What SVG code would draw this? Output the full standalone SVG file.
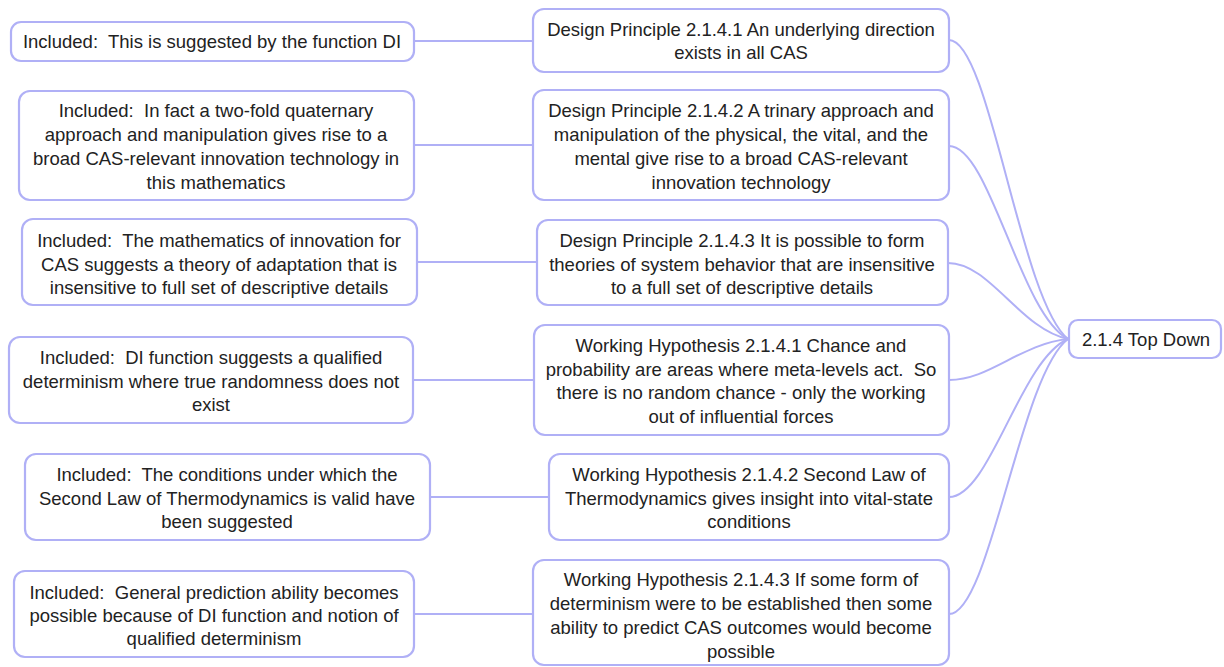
<svg xmlns="http://www.w3.org/2000/svg" width="1224" height="667" viewBox="0 0 1224 667">
<style>
.box{fill:#fff;stroke:#b0b0f6;stroke-width:2.2}
.c{fill:none;stroke:#b0b0f6;stroke-width:2}
text{font-family:"Liberation Sans",Arial,sans-serif;font-size:18.5px;fill:#222;text-anchor:middle;dominant-baseline:central;white-space:pre}
</style>
<rect width="1224" height="667" fill="#fff"/>
<g id="connectors">
<path class="c" d="M414 41H533"/>
<path class="c" d="M414 145H533"/>
<path class="c" d="M417 262H537"/>
<path class="c" d="M413 380H534"/>
<path class="c" d="M430 497H549"/>
<path class="c" d="M414 614H533"/>
<path class="c" d="M949 40C990 40 1020 300 1068 339"/>
<path class="c" d="M949 146C990 146 1020 314 1068 339"/>
<path class="c" d="M948 263C990 263 1020 329 1068 339"/>
<path class="c" d="M949 380C990 380 1020 344 1068 339"/>
<path class="c" d="M949 497C990 497 1020 360 1068 339"/>
<path class="c" d="M949 614C990 614 1020 375 1068 339"/>
</g>
<g id="root"><rect class="box" x="1069" y="320" width="152" height="38" rx="9"/><text x="1146" y="339">2.1.4 Top Down</text></g>
<g id="m1"><rect class="box" x="533" y="9" width="416" height="63" rx="11"/><text x="741" y="29">Design Principle 2.1.4.1 An underlying direction</text><text x="741" y="52">exists in all CAS</text></g>
<g id="m2"><rect class="box" x="533" y="90" width="416" height="110" rx="11"/><text x="741" y="110">Design Principle 2.1.4.2 A trinary approach and</text><text x="741" y="134">manipulation of the physical, the vital, and the</text><text x="741" y="158">mental give rise to a broad CAS-relevant</text><text x="741" y="182">innovation technology</text></g>
<g id="m3"><rect class="box" x="537" y="220" width="411" height="85" rx="11"/><text x="742" y="240">Design Principle 2.1.4.3 It is possible to form</text><text x="742" y="264">theories of system behavior that are insensitive</text><text x="742" y="287">to a full set of descriptive details</text></g>
<g id="m4"><rect class="box" x="534" y="325" width="415" height="110" rx="11"/><text x="741" y="345">Working Hypothesis 2.1.4.1 Chance and</text><text x="741" y="369">probability are areas where meta-levels act.  So</text><text x="741" y="392">there is no random chance - only the working</text><text x="741" y="416">out of influential forces</text></g>
<g id="m5"><rect class="box" x="549" y="454" width="400" height="86" rx="11"/><text x="749" y="474">Working Hypothesis 2.1.4.2 Second Law of</text><text x="749" y="498">Thermodynamics gives insight into vital-state</text><text x="749" y="521">conditions</text></g>
<g id="m6"><rect class="box" x="533" y="560" width="416" height="105" rx="11"/><text x="741" y="579">Working Hypothesis 2.1.4.3 If some form of</text><text x="741" y="603">determinism were to be established then some</text><text x="741" y="627">ability to predict CAS outcomes would become</text><text x="741" y="651">possible</text></g>
<g id="l1"><rect class="box" x="11" y="22" width="403" height="39" rx="10"/><text x="212" y="41">Included:  This is suggested by the function DI</text></g>
<g id="l2"><rect class="box" x="19" y="91" width="395" height="109" rx="11"/><text x="216" y="110">Included:  In fact a two-fold quaternary</text><text x="216" y="134">approach and manipulation gives rise to a</text><text x="216" y="158">broad CAS-relevant innovation technology in</text><text x="216" y="182">this mathematics</text></g>
<g id="l3"><rect class="box" x="22" y="219" width="395" height="86" rx="11"/><text x="219" y="240">Included:  The mathematics of innovation for</text><text x="219" y="264">CAS suggests a theory of adaptation that is</text><text x="219" y="287">insensitive to full set of descriptive details</text></g>
<g id="l4"><rect class="box" x="9" y="337" width="404" height="86" rx="11"/><text x="211" y="357">Included:  DI function suggests a qualified</text><text x="211" y="381">determinism where true randomness does not</text><text x="211" y="404">exist</text></g>
<g id="l5"><rect class="box" x="25" y="454" width="405" height="86" rx="11"/><text x="227" y="474">Included:  The conditions under which the</text><text x="227" y="498">Second Law of Thermodynamics is valid have</text><text x="227" y="521">been suggested</text></g>
<g id="l6"><rect class="box" x="14" y="571" width="400" height="86" rx="11"/><text x="214" y="592">Included:  General prediction ability becomes</text><text x="214" y="615">possible because of DI function and notion of</text><text x="214" y="638">qualified determinism</text></g>
</svg>
